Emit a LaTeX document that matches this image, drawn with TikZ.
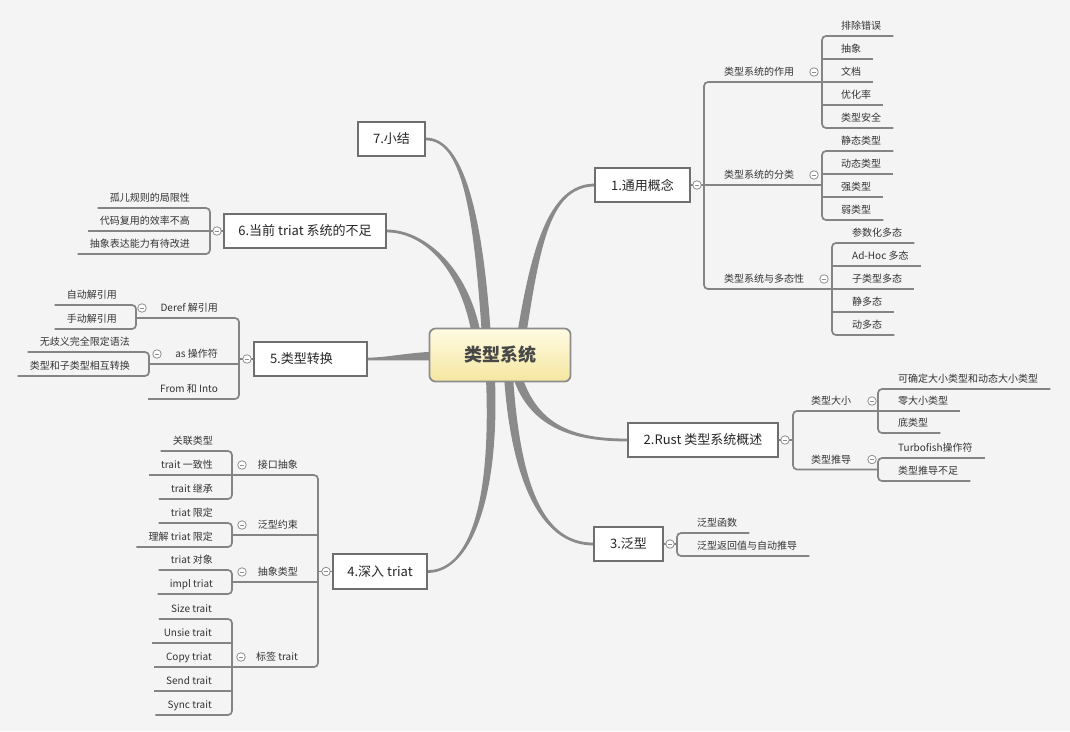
\documentclass[tikz,border=0pt]{standalone}
\usepackage{fontspec}
\setmainfont{Noto Sans CJK SC}
\usetikzlibrary{calc}

\definecolor{bgcol}{HTML}{F4F4F4}
\definecolor{linkcol}{HTML}{848484}
\definecolor{branchcol}{HTML}{8A8A8A}
\definecolor{boxcol}{HTML}{6F6F6F}
\definecolor{circcol}{HTML}{8E8E8E}
\definecolor{textcol}{HTML}{333333}
\definecolor{topictext}{HTML}{262626}
\definecolor{ctrtop}{HTML}{FFFBE3}
\definecolor{ctrbot}{HTML}{F5E6A0}
\definecolor{ctrline}{HTML}{8C8C8C}
\definecolor{ctrtext}{HTML}{474747}

\pgfdeclarelayer{back}
\pgfdeclarelayer{links}
\pgfsetlayers{back,links,main}

% tapered main branch: start, control 1, control 2, end
\newcommand\taperbranch[4]{%
  \path ($(#1)!4.5pt!90:(#2)$) coordinate (tpSl)
        ($(#1)!4.5pt!-90:(#2)$) coordinate (tpSr)
        ($(#4)!1.4pt!-90:(#3)$) coordinate (tpEl)
        ($(#4)!1.4pt!90:(#3)$) coordinate (tpEr);
  \fill[branchcol] (tpSl) .. controls ($(#2)+(tpSl)-(#1)$) and ($(#3)+(tpEl)-(#4)$) .. (tpEl)
     -- (tpEr) .. controls ($(#3)+(tpEr)-(#4)$) and ($(#2)+(tpSr)-(#1)$) .. (tpSr) -- cycle;}
% elbow trunks and underlines for leaves on the right / left
\newcommand\rtrunk[3]{\draw[link,rounded corners=4pt] ($(#2.south east)+(12,0)$) -- (#1 |- #2.south) -- (#1 |- #3.south) -- ($(#3.south east)+(12,0)$);}
\newcommand\rleaf[2]{\draw[link] (#1 |- #2.south) -- ($(#2.south east)+(12,0)$);}
\newcommand\ltrunk[3]{\draw[link,rounded corners=4pt] ($(#2.south west)+(-12,0)$) -- (#1 |- #2.south) -- (#1 |- #3.south) -- ($(#3.south west)+(-12,0)$);}
\newcommand\lleaf[2]{\draw[link] ($(#2.south west)+(-12,0)$) -- (#1 |- #2.south);}

\begin{document}
\begin{tikzpicture}[x=1pt,y=-1pt,
  leaf/.style={font=\fontsize{10}{12}\selectfont, text=textcol, inner xsep=0pt,
    inner ysep=3.5pt, text height=8.5pt, text depth=2.5pt},
  leafR/.style={leaf, anchor=south west},
  leafL/.style={leaf, anchor=south east},
  topic/.style={draw=boxcol, line width=1.8pt, fill=white, text=topictext,
    font=\fontsize{13}{15}\selectfont, minimum height=34pt, inner xsep=0pt},
  link/.style={draw=linkcol, line width=1.7pt},
  collapse/.style={circle, draw=circcol, fill=white, line width=0.8pt,
    minimum size=8.5pt, inner sep=0pt,
    path picture={\draw[circcol, line width=0.8pt]
      ([xshift=-2.2pt]path picture bounding box.center) --
      ([xshift=2.2pt]path picture bounding box.center);}},
]
\useasboundingbox (0,0) rectangle (1070,731);
\begin{pgfonlayer}{back}
  \fill[bgcol] (0,0) rectangle (1070,731);
\end{pgfonlayer}

% ---------- central topic ----------
\node[draw=ctrline, line width=1.8pt, rounded corners=6pt, top color=ctrtop,
      bottom color=ctrbot, minimum width=141pt, minimum height=53pt,
      text=ctrtext, font=\fontsize{18}{20}\selectfont\bfseries] (ctr) at (500,355) {类型系统};

% ---------- main topics ----------
\node[topic, minimum width=95pt]  (t1) at (642.5,185) {1.通用概念};
\node[topic, minimum width=150pt] (t2) at (703,440)   {2.Rust 类型系统概述};
\node[topic, minimum width=69pt]  (t3) at (628.5,544) {3.泛型};
\node[topic, minimum width=94pt, minimum height=35pt] (t4) at (380,571.5) {4.深入 triat};
\node[topic, text width=81pt, align=left, inner xsep=16pt] (t5) at (310.5,359) {5.类型转换};
\node[topic, minimum width=162pt] (t6) at (305,231)   {6.当前 triat 系统的不足};
\node[topic, minimum width=67pt]  (t7) at (391.5,139) {7.小结};

% ---------- 1. 通用概念 ----------
\node[leafR] (s1) at (724,82)  {类型系统的作用};
\node[leafR] (s2) at (724,185) {类型系统的分类};
\node[leafR] (s3) at (724,289) {类型系统与多态性};
\node[leafR] (a1) at (841,36)  {排除错误};
\node[leafR] (a2) at (841,59)  {抽象};
\node[leafR] (a3) at (841,82)  {文档};
\node[leafR] (a4) at (841,105) {优化率};
\node[leafR] (a5) at (841,128) {类型安全};
\node[leafR] (b1) at (841,151) {静态类型};
\node[leafR] (b2) at (841,174) {动态类型};
\node[leafR] (b3) at (841,197) {强类型};
\node[leafR] (b4) at (841,220) {弱类型};
\node[leafR] (c1) at (852,243) {参数化多态};
\node[leafR] (c2) at (852,266) {Ad-Hoc 多态};
\node[leafR] (c3) at (852,289) {子类型多态};
\node[leafR] (c4) at (852,312) {静多态};
\node[leafR] (c5) at (852,335) {动多态};
\coordinate (T1) at (704,0);
\coordinate (kA) at (822,0);
\coordinate (kB) at (822,0);
\coordinate (kC) at (832,0);

% ---------- 2. Rust 类型系统概述 ----------
\node[leafR] (s4) at (811,411)   {类型大小};
\node[leafR] (s5) at (811,469.5) {类型推导};
\node[leafR] (d1) at (898,389) {可确定大小类型和动态大小类型};
\node[leafR] (d2) at (898,411) {零大小类型};
\node[leafR] (d3) at (898,433) {底类型};
\node[leafR] (e1) at (898,458) {Turbofish操作符};
\node[leafR] (e2) at (898,481) {类型推导不足};
\coordinate (T2) at (793,0);
\coordinate (kD) at (878,0);

% ---------- 3. 泛型 ----------
\node[leafR] (f1) at (697,533) {泛型函数};
\node[leafR] (f2) at (697,556) {泛型返回值与自动推导};
\coordinate (T3) at (677,0);

% ---------- 6. 当前 triat 系统的不足 ----------
\node[leafL] (g1) at (190,208) {孤儿规则的局限性};
\node[leafL] (g2) at (190,231) {代码复用的效率不高};
\node[leafL] (g3) at (190,254) {抽象表达能力有待改进};
\coordinate (T6) at (210,0);

% ---------- 5. 类型转换 ----------
\node[leafL] (s6) at (218,318) {Deref 解引用};
\node[leafL] (s7) at (218,364) {as 操作符};
\node[leafL] (s8) at (218,399) {From 和 Into};
\node[leafL] (h1) at (117,305) {自动解引用};
\node[leafL] (h2) at (117,329) {手动解引用};
\node[leafL] (i1) at (130,352) {无歧义完全限定语法};
\node[leafL] (i2) at (130,376) {类型和子类型相互转换};
\coordinate (T5) at (239,0);
\coordinate (kH) at (136,0);
\coordinate (kI) at (149,0);

% ---------- 4. 深入 triat ----------
\node[leafL] (s9)  at (298,475) {接口抽象};
\node[leafL] (s10) at (298,535) {泛型约束};
\node[leafL] (s11) at (298,582) {抽象类型};
\node[leafL] (s12) at (298,667) {标签 trait};
\node[leafL] (j1) at (213,451) {关联类型};
\node[leafL] (j2) at (213,475) {trait 一致性};
\node[leafL] (j3) at (213,499) {trait 继承};
\node[leafL] (k1) at (213,523) {triat 限定};
\node[leafL] (k2) at (213,547) {理解 triat 限定};
\node[leafL] (l1) at (213,570) {triat 对象};
\node[leafL] (l2) at (213,594) {impl triat};
\node[leafL] (m1) at (212,619) {Size trait};
\node[leafL] (m2) at (212,643) {Unsie trait};
\node[leafL] (m3) at (212,667) {Copy triat};
\node[leafL] (m4) at (212,691) {Send trait};
\node[leafL] (m5) at (212,715) {Sync trait};
\coordinate (T4) at (318,0);
\coordinate (kJ) at (232,0);

% ---------- collapse markers ----------
\node[collapse] (ct1) at (697,185) {};
\node[collapse] (cs1) at (814,72) {};
\node[collapse] (cs2) at (814,175) {};
\node[collapse] (cs3) at (824,279) {};
\node[collapse] (ct2) at (785,440) {};
\node[collapse] (cs4) at (872,401) {};
\node[collapse] (cs5) at (872,459.5) {};
\node[collapse] (ct3) at (670,544) {};
\node[collapse] (ct6) at (217,231) {};
\node[collapse] (ct5) at (247,359) {};
\node[collapse] (cs6) at (142,308) {};
\node[collapse] (cs7) at (157,354) {};
\node[collapse] (ct4) at (326,571.5) {};
\node[collapse] (cs9) at (242,465) {};
\node[collapse] (cs10) at (242,525) {};
\node[collapse] (cs11) at (242,572) {};
\node[collapse] (cs12) at (241,657) {};

\begin{pgfonlayer}{links}
  % main branches from the central topic
  \coordinate (b1s) at (520,345); \coordinate (b1a) at (535,250); \coordinate (b1b) at (548,186);
  \taperbranch{b1s}{b1a}{b1b}{t1.west}
  \coordinate (b2s) at (515,368); \coordinate (b2a) at (530,428); \coordinate (b2b) at (575,440);
  \taperbranch{b2s}{b2a}{b2b}{t2.west}
  \coordinate (b3s) at (508,368); \coordinate (b3a) at (515,490); \coordinate (b3b) at (545,544);
  \taperbranch{b3s}{b3a}{b3b}{t3.west}
  \coordinate (b4s) at (490,368); \coordinate (b4a) at (497,500); \coordinate (b4b) at (470,571.5);
  \taperbranch{b4s}{b4a}{b4b}{t4.east}
  \coordinate (b5s) at (445,356); \coordinate (b5a) at (410,356); \coordinate (b5b) at (390,359);
  \taperbranch{b5s}{b5a}{b5b}{t5.east}
  \coordinate (b6s) at (478,345); \coordinate (b6a) at (468,270); \coordinate (b6b) at (425,231);
  \taperbranch{b6s}{b6a}{b6b}{t6.east}
  \coordinate (b7s) at (487,345); \coordinate (b7a) at (478,200); \coordinate (b7b) at (460,139);
  \taperbranch{b7s}{b7a}{b7b}{t7.east}

  % 1. 通用概念
  \draw[link,rounded corners=4pt] (kA |- s1.south) -- (T1 |- s1.south) -- (T1 |- s3.south) -- (kC |- s3.south);
  \draw[link] (t1.east) -- (kB |- t1.east);
  \rtrunk{kA}{a1}{a5} \rleaf{kA}{a2} \rleaf{kA}{a3} \rleaf{kA}{a4}
  \rtrunk{kB}{b1}{b4} \rleaf{kB}{b2} \rleaf{kB}{b3}
  \rtrunk{kC}{c1}{c5} \rleaf{kC}{c2} \rleaf{kC}{c3} \rleaf{kC}{c4}

  % 2. Rust 类型系统概述
  \draw[link,rounded corners=4pt] (kD |- s4.south) -- (T2 |- s4.south) -- (T2 |- s5.south) -- (kD |- s5.south);
  \draw[link] (t2.east) -- (T2 |- t2.east);
  \rtrunk{kD}{d1}{d3} \rleaf{kD}{d2}
  \rtrunk{kD}{e1}{e2}

  % 3. 泛型
  \draw[link] (t3.east) -- (T3 |- t3.east);
  \rtrunk{T3}{f1}{f2}

  % 6. 当前 triat 系统的不足
  \draw[link] (t6.west) -- (T6 |- t6.west);
  \ltrunk{T6}{g1}{g3} \lleaf{T6}{g2}

  % 5. 类型转换
  \draw[link,rounded corners=4pt] (kH |- s6.south) -- (T5 |- s6.south) -- (T5 |- s8.south) -- ($(s8.south west)+(-12,0)$);
  \draw[link] (kI |- s7.south) -- (T5 |- s7.south);
  \draw[link] (t5.west) -- (T5 |- t5.west);
  \ltrunk{kH}{h1}{h2}
  \ltrunk{kI}{i1}{i2}

  % 4. 深入 triat
  \draw[link,rounded corners=4pt] (kJ |- s9.south) -- (T4 |- s9.south) -- (T4 |- s12.south) -- (kJ |- s12.south);
  \draw[link] (kJ |- s10.south) -- (T4 |- s10.south);
  \draw[link] (kJ |- s11.south) -- (T4 |- s11.south);
  \draw[link] (t4.west) -- (T4 |- t4.west);
  \ltrunk{kJ}{j1}{j3} \lleaf{kJ}{j2}
  \ltrunk{kJ}{k1}{k2}
  \ltrunk{kJ}{l1}{l2}
  \ltrunk{kJ}{m1}{m5} \lleaf{kJ}{m2} \lleaf{kJ}{m3} \lleaf{kJ}{m4}
\end{pgfonlayer}
\end{tikzpicture}
\end{document}
